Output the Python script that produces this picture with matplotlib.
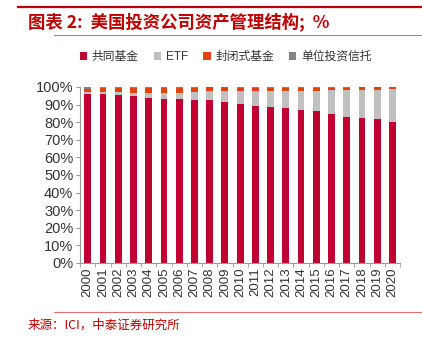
import matplotlib
matplotlib.use('Agg')
import matplotlib.pyplot as plt
from matplotlib.lines import Line2D
from matplotlib.patches import Patch
import numpy as np

plt.rcParams['font.family'] = ['Liberation Sans', 'Noto Sans CJK SC', 'DejaVu Sans']

years = [str(y) for y in range(2000, 2021)]
mutual_fund = [96.1, 96.2, 95.6, 94.8, 93.9, 93.4, 93.0, 92.5, 92.6, 91.4,
               90.2, 89.4, 88.5, 87.9, 86.8, 86.2, 84.9, 83.1, 82.6, 81.6, 80.3]
etf = [0.9, 1.1, 1.5, 1.9, 2.6, 3.2, 3.8, 4.7, 5.1, 6.4,
       7.6, 8.1, 9.1, 9.8, 10.8, 11.6, 13.1, 15.1, 15.8, 16.9, 18.3]
closed_end = [2.0, 1.9, 2.4, 2.8, 3.1, 3.0, 2.8, 2.4, 2.0, 1.9,
              1.8, 2.0, 1.9, 1.8, 1.8, 1.7, 1.6, 1.4, 1.3, 1.2, 1.1]
uit = [1.0, 0.8, 0.5, 0.5, 0.4, 0.4, 0.4, 0.4, 0.3, 0.3,
       0.4, 0.5, 0.5, 0.5, 0.6, 0.5, 0.4, 0.4, 0.3, 0.3, 0.3]

series = [
    ('共同基金', mutual_fund, '#C00030'),
    ('ETF', etf, '#C0C0C0'),
    ('封闭式基金', closed_end, '#E2420E'),
    ('单位投资信托', uit, '#858585'),
]

fig = plt.figure(figsize=(4.22, 3.45), dpi=100)
ax = fig.add_axes([0.19, 0.238, 0.758, 0.51])

x = np.arange(len(years))
bottom = np.zeros(len(years))
for name, vals, color in series:
    ax.bar(x, vals, width=0.45, bottom=bottom, color=color, label=name)
    bottom += np.array(vals)

ax.set_xlim(-0.5, len(years) - 0.5)
ax.set_ylim(0, 100)
ax.set_yticks(np.arange(0, 101, 10))
ax.set_yticklabels([f'{v}%' for v in range(0, 101, 10)], fontsize=10.5, color='#333333')
ax.set_xticks(x)
ax.set_xticklabels(years, rotation=90, fontsize=9.5, color='#333333')
ax.set_xticks(np.arange(-0.5, len(years), 1), minor=True)
ax.tick_params(axis='x', which='major', length=0, pad=3)
ax.tick_params(axis='x', which='minor', length=3, color='#999999', direction='out')
ax.tick_params(axis='y', length=3, color='#999999', pad=2)
for s in ['top', 'right']:
    ax.spines[s].set_visible(False)
for s in ['left', 'bottom']:
    ax.spines[s].set_color('#999999')
    ax.spines[s].set_linewidth(0.8)

handles = [Patch(facecolor=c, edgecolor='none') for _, _, c in series]
fig.legend(handles, [n for n, _, _ in series], loc='center', ncol=4,
           bbox_to_anchor=(0.535, 0.835), frameon=False, fontsize=8.5,
           handlelength=0.6, handleheight=0.6, handletextpad=0.4, columnspacing=1.3,
           labelcolor='#333333')

# header and footer decorations
fig.add_artist(Line2D([0.043, 1.0], [0.98, 0.98], color='#C00000', lw=1.6))
fig.add_artist(Line2D([0.128, 1.0], [0.898, 0.898], color='#E07070', lw=0.8))
fig.add_artist(Line2D([0.128, 1.0], [0.096, 0.096], color='#E07070', lw=0.8))

fig.text(0.066, 0.936, '图表 2:  美国投资公司资产管理结构;  %', fontsize=12.5,
         fontweight='bold', color='#C00000', va='center', ha='left',
         family=['Noto Sans CJK SC', 'DejaVu Sans'])
fig.text(0.066, 0.058, '来源：ICI，中泰证券研究所', fontsize=9, color='#C00000',
         va='center', ha='left', family=['Noto Sans CJK SC', 'DejaVu Sans'])

fig.savefig('out.png', dpi=100)
